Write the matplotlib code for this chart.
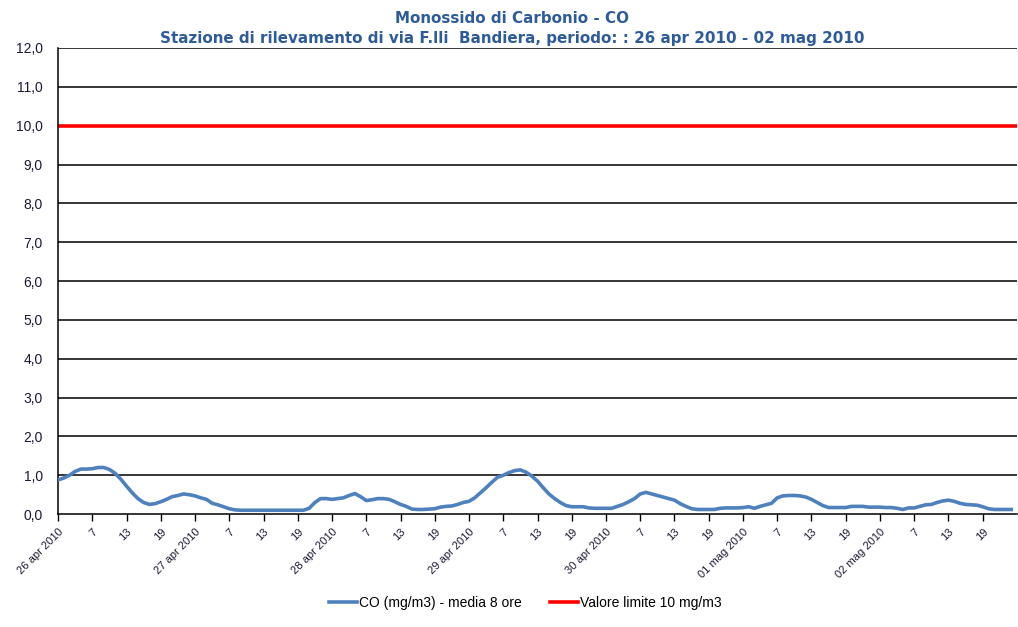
import matplotlib.pyplot as plt
import numpy as np

# CO media mobile 8 ore, valori orari 26 apr - 02 mag 2010
day1 = [0.88, 0.93, 1.0, 1.1, 1.16, 1.16, 1.17, 1.2, 1.2, 1.15, 1.05, 0.9,
        0.72, 0.55, 0.4, 0.3, 0.25, 0.27, 0.32, 0.38, 0.45, 0.48, 0.52, 0.5]
day2 = [0.47, 0.42, 0.38, 0.28, 0.24, 0.19, 0.14, 0.11, 0.1, 0.1, 0.1, 0.1,
        0.1, 0.1, 0.1, 0.1, 0.1, 0.1, 0.1, 0.1, 0.15, 0.3, 0.4, 0.4]
day3 = [0.38, 0.4, 0.42, 0.48, 0.53, 0.45, 0.35, 0.37, 0.4, 0.4, 0.38, 0.32,
        0.25, 0.2, 0.13, 0.12, 0.12, 0.13, 0.14, 0.18, 0.2, 0.21, 0.25, 0.3]
day4 = [0.33, 0.42, 0.55, 0.68, 0.82, 0.95, 1.0, 1.07, 1.12, 1.14, 1.08, 0.98,
        0.85, 0.68, 0.52, 0.4, 0.3, 0.22, 0.19, 0.19, 0.19, 0.16, 0.15, 0.15]
day5 = [0.15, 0.15, 0.2, 0.25, 0.32, 0.4, 0.52, 0.56, 0.52, 0.48, 0.44, 0.4,
        0.36, 0.27, 0.2, 0.14, 0.12, 0.12, 0.12, 0.12, 0.15, 0.16, 0.16, 0.16]
day6 = [0.17, 0.19, 0.15, 0.2, 0.24, 0.28, 0.42, 0.47, 0.48, 0.48, 0.47, 0.44,
        0.38, 0.3, 0.22, 0.17, 0.17, 0.17, 0.17, 0.2, 0.2, 0.2, 0.18, 0.18]
day7 = [0.18, 0.17, 0.17, 0.15, 0.12, 0.16, 0.16, 0.2, 0.24, 0.25, 0.3, 0.34,
        0.36, 0.33, 0.28, 0.25, 0.24, 0.23, 0.19, 0.14, 0.12, 0.12, 0.12, 0.12]
co = day1 + day2 + day3 + day4 + day5 + day6 + day7
limite = 10.0

dates = ["26 apr 2010", "27 apr 2010", "28 apr 2010", "29 apr 2010",
         "30 apr 2010", "01 mag 2010", "02 mag 2010"]
hours = ["7", "13", "19"]

xlabels = []
for d in dates:
    xlabels.append(d)
    xlabels += hours

plt.rcParams['font.family'] = ['Liberation Sans', 'DejaVu Sans']

fig = plt.figure(figsize=(10.18, 6.27), dpi=100)
ax = fig.add_axes([0.057, 0.180, 0.942, 0.7435])

x = np.arange(len(co))
for v in range(1, 13):
    ax.axhline(v, color='black', lw=1.1, zorder=1)
l1, = ax.plot(x, co, color='#4F81BD', lw=2.6, zorder=3,
              solid_joinstyle='round', label='CO (mg/m3) - media 8 ore')
l2 = ax.axhline(limite, color='#FF0000', lw=2.6, zorder=2,
                label='Valore limite 10 mg/m3')

ax.set_xlim(0, 168)
ax.set_ylim(0, 12)
ax.set_yticks(range(0, 13))
ax.set_yticklabels(['%d,0' % v for v in range(0, 13)], fontsize=10, color='#1a1a33')
ax.set_xticks(range(0, 168, 6))
ax.set_xticklabels(xlabels, rotation=45, ha='right', rotation_mode='anchor',
                   fontsize=8, color='#1a1a33')
ax.tick_params(axis='x', length=5, width=1, color='black', pad=4)
ax.tick_params(axis='y', length=0, pad=11)

for s in ['top', 'right']:
    ax.spines[s].set_visible(False)
ax.spines['left'].set_linewidth(1.1)
ax.spines['bottom'].set_linewidth(1.1)

fig.text(0.503, 0.970, 'Monossido di Carbonio - CO', ha='center', va='center',
         fontsize=10.9, fontweight='bold', color='#2E5C9A', family='DejaVu Sans')
fig.text(0.503, 0.939, 'Stazione di rilevamento di via F.lli  Bandiera, periodo: : 26 apr 2010 - 02 mag 2010',
         ha='center', va='center', fontsize=10.9, fontweight='bold', color='#2E5C9A',
         family='DejaVu Sans')

fig.legend(handles=[l1, l2], loc='center', bbox_to_anchor=(0.516, 0.038), ncol=2,
           frameon=False, fontsize=10, handlelength=2.0, columnspacing=2.0,
           handletextpad=0.15)

plt.savefig('out.png', dpi=100)
